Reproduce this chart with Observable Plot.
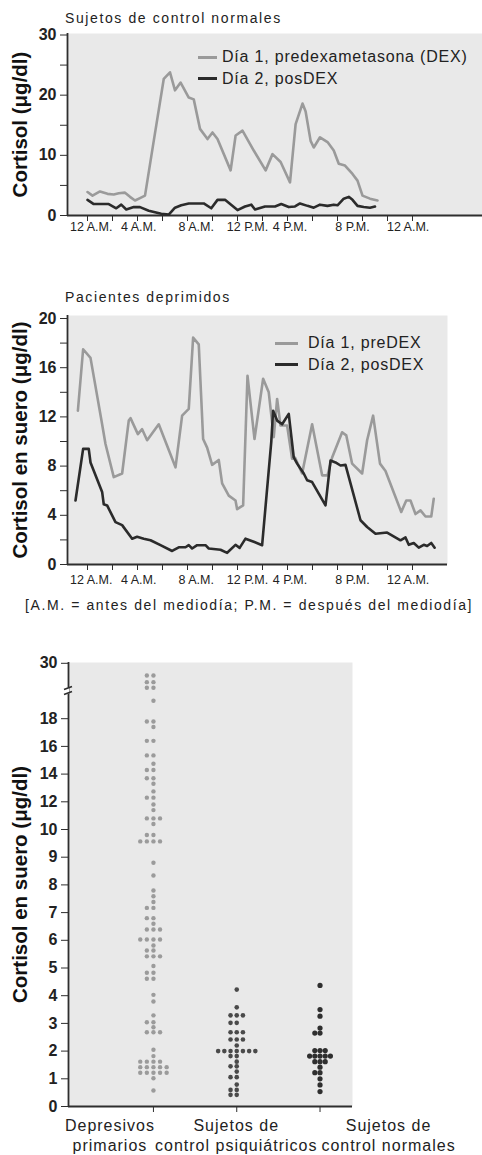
<!DOCTYPE html>
<html lang="es">
<head>
<meta charset="utf-8">
<script src="https://cdn.jsdelivr.net/npm/d3@7"></script>
<script src="https://cdn.jsdelivr.net/npm/@observablehq/plot@0.6"></script>
<style>
html,body{margin:0;padding:0;background:#fff;}
#root{position:relative;width:482px;height:1155px;overflow:hidden;font-family:"Liberation Sans",Arial,sans-serif;color:#222;}
#root svg{position:absolute;left:0;}
.abs{position:absolute;white-space:nowrap;}
.titulo{font-size:14px;line-height:18px;letter-spacing:1.6px;}
.leg{font-size:16px;line-height:20px;letter-spacing:0.8px;display:flex;align-items:center;}
.sw{display:inline-block;height:3px;}
.cat{font-size:16px;line-height:20px;letter-spacing:1px;text-align:center;transform:translateX(-50%);}
</style>
</head>
<body>
<div id="root"></div>
<script>
// ---------- DATA ----------
// Panel 1: Sujetos de control normales (hours after 12 A.M., cortisol µg/dl)
const horasControlDia1 = [0, 0.4, 1.0, 1.6, 2.1, 2.5, 3.0, 3.4, 3.8, 4.2, 4.6, 5.3, 6.1, 6.6, 7.0, 7.45, 8.1, 8.5, 9.0, 9.6, 10.0, 10.4, 11.45, 11.85, 12.4, 13.3, 14.25, 14.8, 15.45, 16.2, 16.65, 17.2, 17.45, 17.85, 18.1, 18.6, 19.2, 19.7, 20.1, 20.6, 21.2, 21.6, 22.0, 22.6, 23.2];
const cortisolControlDia1 = [3.9, 3.3, 4.0, 3.6, 3.5, 3.7, 3.8, 3.1, 2.5, 2.9, 3.3, 12.4, 22.7, 23.8, 20.8, 22.1, 19.6, 19.3, 14.4, 12.7, 13.8, 12.7, 7.5, 13.3, 14.1, 10.8, 7.5, 10.2, 8.9, 5.5, 15.2, 18.6, 17.3, 12.4, 11.3, 13.0, 12.2, 10.8, 8.6, 8.3, 6.9, 5.8, 3.3, 2.8, 2.5];
const horasControlDia2 = [0, 0.5, 1.7, 2.3, 2.7, 3.1, 3.7, 4.2, 4.9, 5.9, 6.5, 7.0, 7.5, 8.1, 9.3, 9.9, 10.4, 11.0, 12.0, 12.6, 13.1, 13.4, 14.2, 15.0, 15.5, 16.1, 16.6, 17.0, 17.6, 18.1, 18.6, 19.2, 19.7, 20.0, 20.5, 20.9, 21.2, 21.6, 22.1, 22.6, 23.0];
const cortisolControlDia2 = [2.6, 1.9, 1.9, 1.2, 1.8, 1.0, 1.4, 1.4, 0.8, 0.3, 0.15, 1.3, 1.7, 2.0, 2.0, 1.2, 2.6, 2.6, 0.9, 1.5, 1.8, 1.0, 1.5, 1.5, 1.9, 1.4, 1.5, 2.0, 1.6, 1.3, 1.8, 1.6, 1.8, 1.7, 2.8, 3.1, 2.6, 1.6, 1.4, 1.3, 1.5];

// Panel 2: Pacientes deprimidos
const horasDeprDia1 = [-0.77, -0.35, 0.24, 1.17, 1.44, 2.1, 2.77, 3.3, 3.44, 4.03, 4.37, 4.77, 5.7, 7.04, 7.57, 8.1, 8.45, 8.9, 9.25, 9.57, 9.97, 10.5, 10.77, 11.3, 11.84, 11.97, 12.45, 12.8, 13.36, 14.05, 14.5, 14.9, 15.17, 15.44, 15.97, 16.37, 16.6, 17.17, 17.97, 18.77, 19.2, 19.57, 20.37, 20.7, 21.17, 21.97, 22.37, 22.85, 23.4, 23.84, 25.1, 25.5, 25.84, 26.24, 26.64, 27.04, 27.5, 27.7];
const cortisolDeprDia1 = [12.5, 17.5, 16.8, 11.4, 9.8, 7.1, 7.4, 11.7, 11.9, 10.6, 11.0, 10.1, 11.4, 7.9, 12.1, 12.65, 18.45, 17.9, 10.2, 9.5, 8.1, 8.5, 6.6, 5.6, 5.2, 4.5, 4.8, 15.35, 10.2, 15.1, 14.0, 10.35, 13.46, 11.3, 11.3, 8.6, 8.7, 7.4, 11.4, 7.25, 7.25, 8.7, 10.75, 10.5, 8.2, 7.4, 10.1, 12.1, 8.2, 7.6, 4.27, 5.2, 5.2, 4.1, 4.4, 3.9, 3.9, 5.35];
const horasDeprDia2 = [-0.96, -0.35, 0.1, 0.24, 1.17, 1.3, 1.57, 2.24, 2.77, 3.57, 3.97, 4.5, 5.04, 5.84, 6.77, 7.3, 7.84, 8.1, 8.37, 8.77, 9.44, 9.7, 10.64, 11.17, 11.84, 12.17, 12.64, 13.3, 13.97, 14.7, 14.85, 15.17, 15.57, 16.1, 16.5, 16.77, 17.3, 17.57, 17.97, 19.04, 19.44, 19.84, 20.24, 20.64, 21.84, 22.37, 23.04, 23.97, 25.04, 25.44, 25.7, 26.1, 26.5, 26.9, 27.17, 27.5, 27.77];
const cortisolDeprDia2 = [5.2, 9.4, 9.4, 8.3, 5.9, 4.9, 4.8, 3.45, 3.2, 2.1, 2.25, 2.1, 1.97, 1.57, 1.1, 1.4, 1.4, 1.57, 1.3, 1.57, 1.57, 1.3, 1.2, 0.95, 1.6, 1.35, 2.1, 1.85, 1.57, 9.95, 12.5, 11.7, 11.4, 12.25, 8.7, 8.2, 7.4, 6.85, 6.7, 4.8, 8.45, 8.3, 8.05, 8.1, 3.6, 3.05, 2.5, 2.6, 1.97, 2.2, 1.6, 1.75, 1.37, 1.6, 1.5, 1.75, 1.37];

// time axis labels
const ticksHora = [0, 2, 4, 6, 8, 10, 12, 14, 16, 18, 20, 22, 24, 26];
const etiquetasHora = ["12 A.M.", "4 A.M.", "8 A.M.", "12 P.M.", "4 P.M.", "8 P.M.", "12 A.M."];
const horaEtiqueta = [0.3, 4.1, 8.7, 12.8, 16.2, 21.2, 25.65];

// Panel 3: individual serum cortisol values (one entry per dot)
const categorias = [["Depresivos", "primarios"], ["Sujetos de", "control psiquiátricos"], ["Sujetos de", "control normales"]];
const depresivos = [25.6, 25.6, 23.2, 23.2, 21.2, 21.2, 19.3, 17.8, 17.8, 17.4, 16.4, 16.4, 15.35, 15.35, 14.75, 14.3, 14.3, 13.7, 13.7, 13.3, 12.75, 12.3, 12.3, 11.8, 11.4, 10.8, 10.8, 10.8, 10.4, 9.8, 9.8, 9.57, 9.57, 9.57, 9.57, 8.8, 8.34, 7.8, 7.59, 7.38, 7.17, 7.17, 6.8, 6.8, 6.6, 6.39, 6.39, 6.39, 6.03, 6.03, 6.03, 6.03, 5.81, 5.63, 5.63, 5.42, 5.42, 5.42, 5.07, 4.83, 4.83, 4.61, 4.61, 4.03, 3.79, 3.29, 3.04, 3.04, 2.86, 2.68, 2.68, 2.68, 2.05, 1.82, 1.62, 1.62, 1.62, 1.62, 1.42, 1.42, 1.42, 1.42, 1.42, 1.22, 1.22, 1.22, 1.22, 1.22, 1.02, 0.58];
const psiquiatricos = [4.22, 3.58, 3.29, 3.29, 3.29, 3.02, 3.02, 2.68, 2.68, 2.68, 2.42, 2.42, 2.42, 2.2, 2.0, 2.0, 2.0, 2.0, 2.0, 2.0, 2.0, 1.82, 1.82, 1.62, 1.45, 1.45, 1.26, 1.06, 1.06, 0.79, 0.6, 0.6, 0.42, 0.42];
const normales = [4.37, 3.5, 3.26, 2.83, 2.65, 2.65, 2.02, 2.02, 2.02, 1.82, 1.82, 1.82, 1.82, 1.82, 1.62, 1.62, 1.62, 1.42, 1.22, 1.22, 1.0, 0.78, 0.54];
const ticksPanel3 = [0, 1, 2, 3, 4, 5, 6, 7, 8, 9, 10, 12, 14, 16, 18, 30];

// text
const titulos = ["Sujetos de control normales", "Pacientes deprimidos"];
const leyendaControl = ["Día 1, predexametasona (DEX)", "Día 2, posDEX"];
const leyendaDepr = ["Día 1, preDEX", "Día 2, posDEX"];
const notaHora = "[A.M. = antes del mediodía; P.M. = después del mediodía]";

// ---------- STYLE ----------
const FONDO = "#e9e9e9", EJE = "#2e2e2e", GRIS = "#9a9a9a", NEGRO = "#2b2b2b";
const FONT = "'Liberation Sans', Arial, sans-serif";
const root = document.getElementById("root");

const serie = (hs, vs) => hs.map((h, i) => ({hora: h, valor: vs[i]}));

function panelTiempo({top, height, marginTop, marginBottom, marginRight, insetTop, xDom, yMax, ticksMayor, ticksMenor, dia1, dia2, etiquetaY, dyEtiq}) {
  const svg = Plot.plot({
    width: 482, height,
    marginLeft: 67, marginRight, marginTop, marginBottom,
    style: {fontFamily: FONT, color: "#222", background: "transparent", overflow: "visible"},
    x: {type: "linear", domain: xDom},
    y: {type: "linear", domain: [0, yMax], insetTop},
    marks: [
      Plot.frame({fill: FONDO, stroke: null}),
      Plot.axisY({ticks: ticksMenor, tickSize: 7, tickFormat: () => "", label: null, stroke: EJE}),
      Plot.axisY({ticks: ticksMayor, tickSize: 7, tickPadding: 4, fontSize: 16, fontWeight: "bold", label: null, stroke: EJE, fill: "#222"}),
      Plot.axisX({ticks: ticksHora, tickSize: 6, tickFormat: () => "", label: null, stroke: EJE}),
      Plot.text(etiquetasHora, {x: (d, i) => horaEtiqueta[i], text: d => d, frameAnchor: "bottom", dy: dyEtiq, fontSize: 12.5, fill: "#222"}),
      Plot.ruleY([0], {stroke: EJE, strokeWidth: 1.8}),
      Plot.ruleX([xDom[0]], {stroke: EJE, strokeWidth: 1.8}),
      Plot.line(dia1, {x: "hora", y: "valor", stroke: GRIS, strokeWidth: 2.6}),
      Plot.line(dia2, {x: "hora", y: "valor", stroke: NEGRO, strokeWidth: 2.6}),
      Plot.text([etiquetaY], {frameAnchor: "left", textAnchor: "middle", rotate: -90, dx: -47, fontSize: 20.5, fontWeight: "bold", fill: "#111"})
    ]
  });
  svg.style.top = top + "px";
  root.appendChild(svg);
  return svg;
}

function addDiv(cls, left, top, html) {
  const d = document.createElement("div");
  d.className = "abs " + cls;
  d.style.left = left + "px";
  d.style.top = top + "px";
  d.innerHTML = html;
  root.appendChild(d);
  return d;
}
function addLegend(left, top, texts, swW, gap) {
  const colors = [GRIS, NEGRO];
  texts.forEach((t, i) => {
    const d = addDiv("leg", left, top + i * 21.5, "");
    const sw = document.createElement("span");
    sw.className = "sw";
    sw.style.width = swW + "px";
    sw.style.marginRight = gap + "px";
    sw.style.background = colors[i];
    d.appendChild(sw);
    d.appendChild(document.createTextNode(t));
  });
}

// ---------- PANEL 1 ----------
addDiv("titulo", 65, 9, titulos[0]);
panelTiempo({
  top: 0, height: 240, marginTop: 33, marginBottom: 25, marginRight: 0, insetTop: 1.5,
  xDom: [-1.6, 31.6], yMax: 30, ticksMayor: [0, 10, 20, 30], ticksMenor: [5, 15, 25],
  dia1: serie(horasControlDia1, cortisolControlDia1), dia2: serie(horasControlDia2, cortisolControlDia2),
  etiquetaY: "Cortisol (μg/dl)", dyEtiq: 15
});
addLegend(198, 47, leyendaControl, 19, 5);

// ---------- PANEL 2 ----------
addDiv("titulo", 65, 288, titulos[1]);
panelTiempo({
  top: 300, height: 290, marginTop: 15, marginBottom: 26, marginRight: 35, insetTop: 3,
  xDom: [-1.6, 28.8], yMax: 20, ticksMayor: [0, 4, 8, 12, 16, 20], ticksMenor: [2, 6, 10, 14, 18],
  dia1: serie(horasDeprDia1, cortisolDeprDia1), dia2: serie(horasDeprDia2, cortisolDeprDia2),
  etiquetaY: "Cortisol en suero (μg/dl)", dyEtiq: 19
});
addLegend(275, 333, leyendaDepr, 23, 10);
addDiv("titulo", 25, 596, notaHora);

// ---------- PANEL 3 ----------
const H3 = 515, MB3 = 49, MT3 = 22, ML3 = 68, MR3 = 130, PASO = 27.7;
const base3 = H3 - MB3;
const xDom3 = [-1.02, 2.39];
const unidadX = (482 - ML3 - MR3) / (xDom3[1] - xDom3[0]);
const espaciadoPx = [6.6, 6.2, 5.2];
const grupos = [depresivos, psiquiatricos, normales];
const puntos = [];
grupos.forEach((vals, g) => {
  const cuenta = new Map();
  for (const v of vals) {
    const k = cuenta.get(v) || 0;
    cuenta.set(v, k + 1);
    const rango = k === 0 ? 0 : (k % 2 ? -Math.ceil(k / 2) : k / 2);
    puntos.push({grupo: g, valor: v, x: g + rango * espaciadoPx[g] / unidadX});
  }
});
const estiloPunto = [{fill: "#9b9b9b", r: 2.2}, {fill: "#4a4a4a", r: 2.3}, {fill: "#2f2f2f", r: 2.6}];

const chart3 = Plot.plot({
  width: 482, height: H3,
  marginLeft: ML3, marginRight: MR3, marginTop: MT3, marginBottom: MB3,
  style: {fontFamily: FONT, color: "#222", background: "transparent", overflow: "visible"},
  x: {type: "linear", domain: xDom3},
  // piecewise (broken) axis: 0–10 one step per unit, 10–20 one step per 2 units, 20–30 a single step
  y: {type: "linear", domain: [0, 10, 20, 30], range: [0, 10, 15, 16].map(s => base3 - s * PASO)},
  marks: [
    Plot.frame({fill: FONDO, stroke: null}),
    Plot.axisY({ticks: ticksPanel3, tickSize: 7, tickPadding: 4, fontSize: 16, fontWeight: "bold", label: null, stroke: EJE, fill: "#222"}),
    Plot.axisX({ticks: [0, 1, 2], tickSize: 6, tickFormat: () => "", label: null, stroke: EJE}),
    Plot.ruleY([0], {stroke: EJE, strokeWidth: 1.8}),
    Plot.ruleX([xDom3[0]], {stroke: EJE, strokeWidth: 1.8}),
    ...[0, 1, 2].map(g => Plot.dot(puntos.filter(d => d.grupo === g), {x: "x", y: "valor", r: estiloPunto[g].r, fill: estiloPunto[g].fill, stroke: null})),
    Plot.text(["Cortisol en suero (μg/dl)"], {frameAnchor: "left", textAnchor: "middle", rotate: -90, dx: -48, fontSize: 20.5, fontWeight: "bold", fill: "#111"})
  ]
});
chart3.style.top = "640px";
root.appendChild(chart3);

// axis break between 18 and 30
{
  const ys = chart3.scale("y"), xs = chart3.scale("x");
  const yb = ys.apply(20), xb = xs.apply(xDom3[0]);
  const g = d3.select(chart3).append("g");
  g.append("rect").attr("x", xb - 4).attr("y", yb - 3).attr("width", 5).attr("height", 6).attr("fill", "#fff");
  g.append("path").attr("d", `M${xb - 4},${yb - 1}L${xb + 4},${yb - 4}M${xb - 4},${yb + 4}L${xb + 4},${yb + 1}`)
    .attr("stroke", EJE).attr("stroke-width", 1.6).attr("fill", "none");
  // category labels under ticks
  const desplaz = [-43, 0, 69];
  categorias.forEach((lines, g2) => {
    addDiv("cat", xs.apply(g2) + desplaz[g2], 640 + base3 + 10, lines.join("<br>"));
  });
}
</script>
</body>
</html>
